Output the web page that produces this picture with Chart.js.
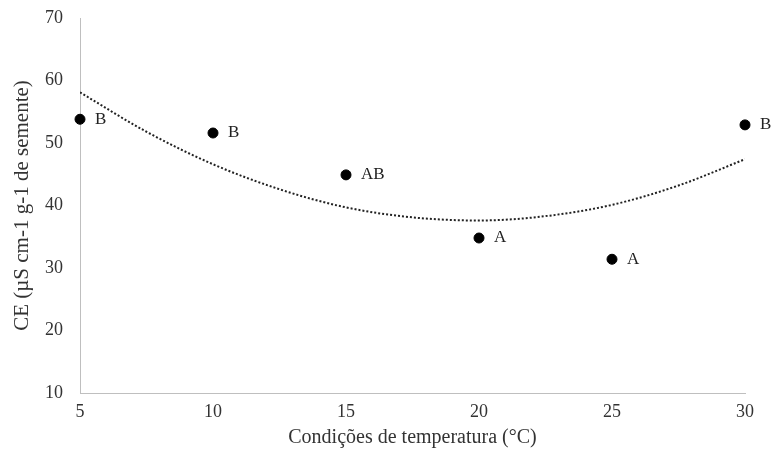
<!DOCTYPE html>
<html lang="pt">
<head>
  <meta charset="UTF-8">
  <title>CE x temperatura</title>
  <script src="https://cdn.jsdelivr.net/npm/chart.js"></script>
  <style>
    body { margin: 0; background: #fff; }
    #wrap { width: 771px; height: 454px; }
  </style>
</head>
<body>
  <div id="wrap"><canvas id="chart"></canvas></div>
  <script>
    // valores
    const temps = [5, 10, 15, 20, 25, 30];
    const ce = [53.8, 51.6, 44.9, 34.8, 31.4, 52.9];
    const letras = ['B', 'B', 'AB', 'A', 'A', 'B'];

    // linha de tendência (pontilhada), lida ao longo da curva
    const trendX = [5, 7.5, 10, 12.5, 15, 17.5, 20, 22.5, 25, 27.5, 30];
    const trendY = [58.1, 51.8, 46.6, 42.6, 39.7, 38.1, 37.6, 38.3, 40.1, 43.2, 47.4];

    const serif = "'Liberation Serif', 'Times New Roman', serif";

    // escreve as letras ao lado de cada ponto
    const letterLabels = {
      id: 'letterLabels',
      afterDatasetsDraw(chart) {
        const meta = chart.getDatasetMeta(1);
        const ctx = chart.ctx;
        ctx.save();
        ctx.font = '17px ' + serif;
        ctx.fillStyle = '#222';
        ctx.textBaseline = 'middle';
        meta.data.forEach((pt, i) => {
          ctx.fillText(letras[i], pt.x + 15, pt.y);
        });
        ctx.restore();
      }
    };

    new Chart(document.getElementById('chart'), {
      type: 'scatter',
      data: {
        datasets: [
          {
            label: 'Tendência',
            data: trendX.map((x, i) => ({ x: x, y: trendY[i] })),
            showLine: true,
            borderColor: '#222',
            borderWidth: 2,
            borderDash: [2, 2],
            pointRadius: 0,
            tension: 0.4,
            cubicInterpolationMode: 'monotone'
          },
          {
            label: 'CE',
            data: temps.map((x, i) => ({ x: x, y: ce[i] })),
            backgroundColor: '#000',
            borderColor: '#000',
            pointRadius: 5,
            pointHoverRadius: 5,
            clip: false
          }
        ]
      },
      options: {
        responsive: true,
        maintainAspectRatio: false,
        animation: false,
        layout: { padding: { top: 18, right: 26, left: 0, bottom: 0 } },
        plugins: {
          legend: { display: false },
          tooltip: { enabled: false }
        },
        scales: {
          x: {
            type: 'linear',
            min: 5,
            max: 30,
            ticks: { stepSize: 5, color: '#333', font: { family: serif, size: 18 }, padding: 8 },
            grid: { display: false, drawTicks: false },
            border: { color: '#bfbfbf', width: 1 },
            title: {
              display: true,
              text: 'Condições de temperatura (°C)',
              color: '#333',
              font: { family: serif, size: 20 },
              padding: { top: 4, bottom: 4 }
            },
            afterFit: s => { s.height = 61; s.paddingLeft = 0; s.paddingRight = 0; }
          },
          y: {
            min: 10,
            max: 70,
            ticks: { stepSize: 10, color: '#333', font: { family: serif, size: 18 }, padding: 17 },
            grid: { display: false, drawTicks: false },
            border: { color: '#bfbfbf', width: 1 },
            title: {
              display: true,
              text: 'CE (µS cm-1 g-1 de semente)',
              color: '#333',
              font: { family: serif, size: 21 },
              padding: { top: 10 }
            },
            afterFit: s => { s.width = 80; s.paddingTop = 0; s.paddingBottom = 0; }
          }
        }
      },
      plugins: [letterLabels]
    });
  </script>
</body>
</html>
